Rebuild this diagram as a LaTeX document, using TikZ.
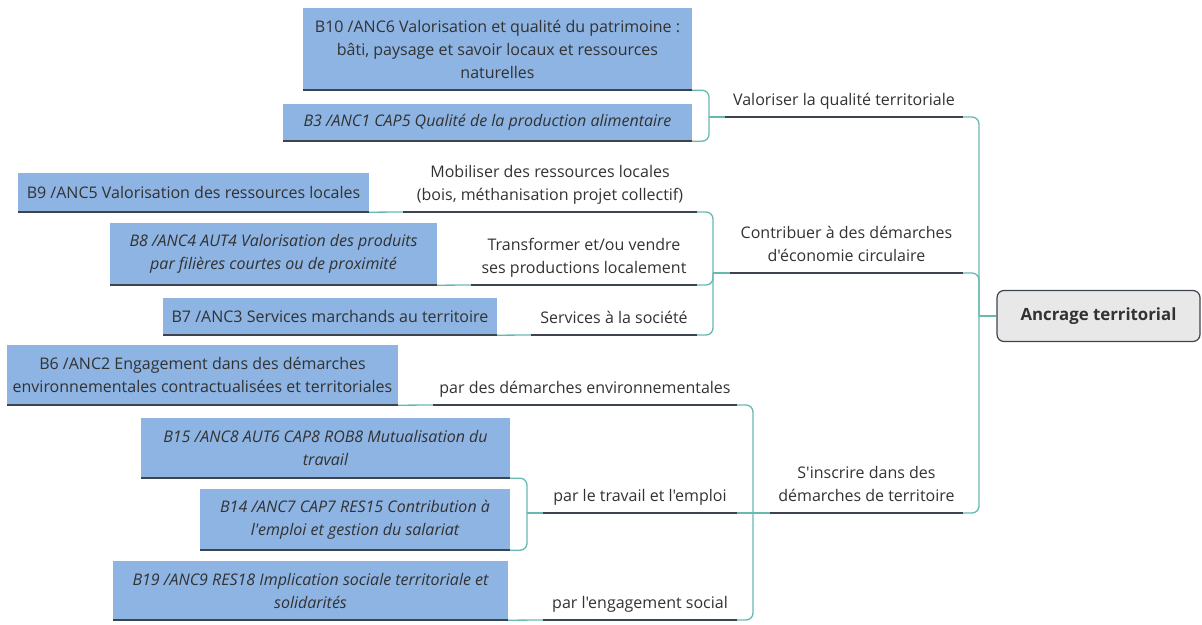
\documentclass[tikz,border=0pt]{standalone}
\usepackage{fontspec}
\setmainfont{Open Sans}[Ligatures=TeXOff]
\definecolor{boxblue}{RGB}{141,180,226}
\definecolor{rulegray}{RGB}{62,68,78}
\definecolor{linkteal}{RGB}{104,184,178}
\definecolor{inkgray}{RGB}{50,50,50}
\definecolor{rootfill}{RGB}{232,232,232}
\newcommand\itemfont{\fontsize{16}{23}\selectfont}
\begin{document}
\begin{tikzpicture}[x=1pt,y=-1pt,
  every node/.style={text=inkgray},
  leaf/.style={fill=boxblue, inner sep=0pt, align=center, font=\itemfont},
  topic/.style={anchor=south, inner xsep=0pt, inner ysep=4pt, align=center, font=\itemfont},
  root/.style={draw=rulegray, fill=rootfill, line width=1.2pt, rounded corners=7pt,
    minimum width=203pt, minimum height=51pt, inner sep=0pt, font=\fontsize{16.8}{20}\selectfont\bfseries},
  conn/.style={draw=linkteal, line width=1.3pt, rounded corners=7pt},
  underline/.style={draw=rulegray, line width=1.5pt},
  boxrule/.style={draw=rulegray, line width=2pt},
]
\useasboundingbox (0,0) rectangle (1202,624);

% central topic
\node[root] (root) at (1098.5,316) {Ancrage territorial};

% main branches
\node[topic, minimum width=238pt] (val) at (844,117) {Valoriser la qualité territoriale\strut};
\node[topic, minimum width=233pt] (ctb) at (846.5,273) {Contribuer à des démarches\\d'économie circulaire\strut};
\node[topic, minimum width=193pt] (ins) at (866.5,513) {S'inscrire dans des\\démarches de territoire\strut};

% sub-branches
\node[topic, minimum width=294pt] (mob) at (550,212) {Mobiliser des ressources locales\\(bois, méthanisation projet collectif)\strut};
\node[topic, minimum width=226pt] (tr) at (584,285) {Transformer et/ou vendre\\ses productions localement\strut};
\node[topic, minimum width=166pt] (serv) at (614,335) {Services à la société\strut};
\node[topic, minimum width=304pt] (env) at (585,405) {par des démarches environnementales\strut};
\node[topic, minimum width=194pt] (trav) at (640,513) {par le travail et l'emploi\strut};
\node[topic, minimum width=194pt] (eng) at (640,620) {par l'engagement social\strut};

% criteria boxes
\node[leaf, minimum width=389pt, minimum height=82pt] (b10) at (497.5,49)
  {B10 /ANC6 Valorisation et qualité du patrimoine :\\bâti, paysage et savoir locaux et ressources\\naturelles};
\node[leaf, minimum width=409pt, minimum height=37pt] (b3) at (487.5,122.5)
  {\itshape B3 /ANC1 CAP5 Qualité de la production alimentaire};
\node[leaf, minimum width=351pt, minimum height=39pt] (b9) at (193.5,192.5)
  {B9 /ANC5 Valorisation des ressources locales};
\node[leaf, minimum width=327pt, minimum height=62pt] (b8) at (273.5,254)
  {\itshape B8 /ANC4 AUT4 Valorisation des produits\\\itshape par filières courtes ou de proximité};
\node[leaf, minimum width=334pt, minimum height=37pt] (b7) at (330,316.5)
  {B7 /ANC3 Services marchands au territoire};
\node[leaf, minimum width=391pt, minimum height=60pt] (b6) at (202.5,375)
  {B6 /ANC2 Engagement dans des démarches\\environnementales contractualisées et territoriales};
\node[leaf, minimum width=369pt, minimum height=60pt] (b15) at (325.5,448)
  {\itshape B15 /ANC8 AUT6 CAP8 ROB8 Mutualisation du\\\itshape travail};
\node[leaf, minimum width=310pt, minimum height=61pt] (b14) at (355,519.5)
  {\itshape B14 /ANC7 CAP7 RES15 Contribution à\\\itshape l'emploi et gestion du salariat};
\node[leaf, minimum width=395pt, minimum height=59pt] (b19) at (310.5,590.5)
  {\itshape B19 /ANC9 RES18 Implication sociale territoriale et\\\itshape solidarités};

% junction points
\coordinate (trunk) at (979,316);
\coordinate (j1) at (709,117);
\coordinate (j2) at (713,273);
\coordinate (j3) at (753,513);
\coordinate (j4) at (527,513);

% connectors
\draw[conn] (root.west) -- (trunk);
\draw[conn] (val.south east) -| (trunk);
\draw[conn] (ctb.south east) -| (trunk);
\draw[conn] (ins.south east) -| (trunk);

\draw[conn] (b10.south east) -| (j1);
\draw[conn] (b3.south east) -| (j1);
\draw[conn] (j1) -- (val.south west);

\draw[conn] (mob.south east) -| (j2);
\draw[conn] (tr.south east) -| (j2);
\draw[conn] (serv.south east) -| (j2);
\draw[conn] (j2) -- (ctb.south west);
\draw[conn] (b9.south east) -- (mob.south west);
\draw[conn] (b8.south east) -- (tr.south west);
\draw[conn] (b7.south east) -- (serv.south west);

\draw[conn] (env.south east) -| (j3);
\draw[conn] (trav.south east) -- (j3);
\draw[conn] (eng.south east) -| (j3);
\draw[conn] (j3) -- (ins.south west);
\draw[conn] (b6.south east) -- (env.south west);

\draw[conn] (b15.south east) -| (j4);
\draw[conn] (b14.south east) -| (j4);
\draw[conn] (j4) -- (trav.south west);
\draw[conn] (b19.south east) -- (eng.south west);

% underlines of branch labels and bottom rules of boxes
\foreach \n in {val,ctb,ins,mob,tr,serv,env,trav,eng}
  \draw[underline] (\n.south west) -- (\n.south east);
\foreach \n in {b10,b3,b9,b8,b7,b6,b15,b14,b19}
  \draw[boxrule] (\n.south west) -- (\n.south east);
\end{tikzpicture}
\end{document}
